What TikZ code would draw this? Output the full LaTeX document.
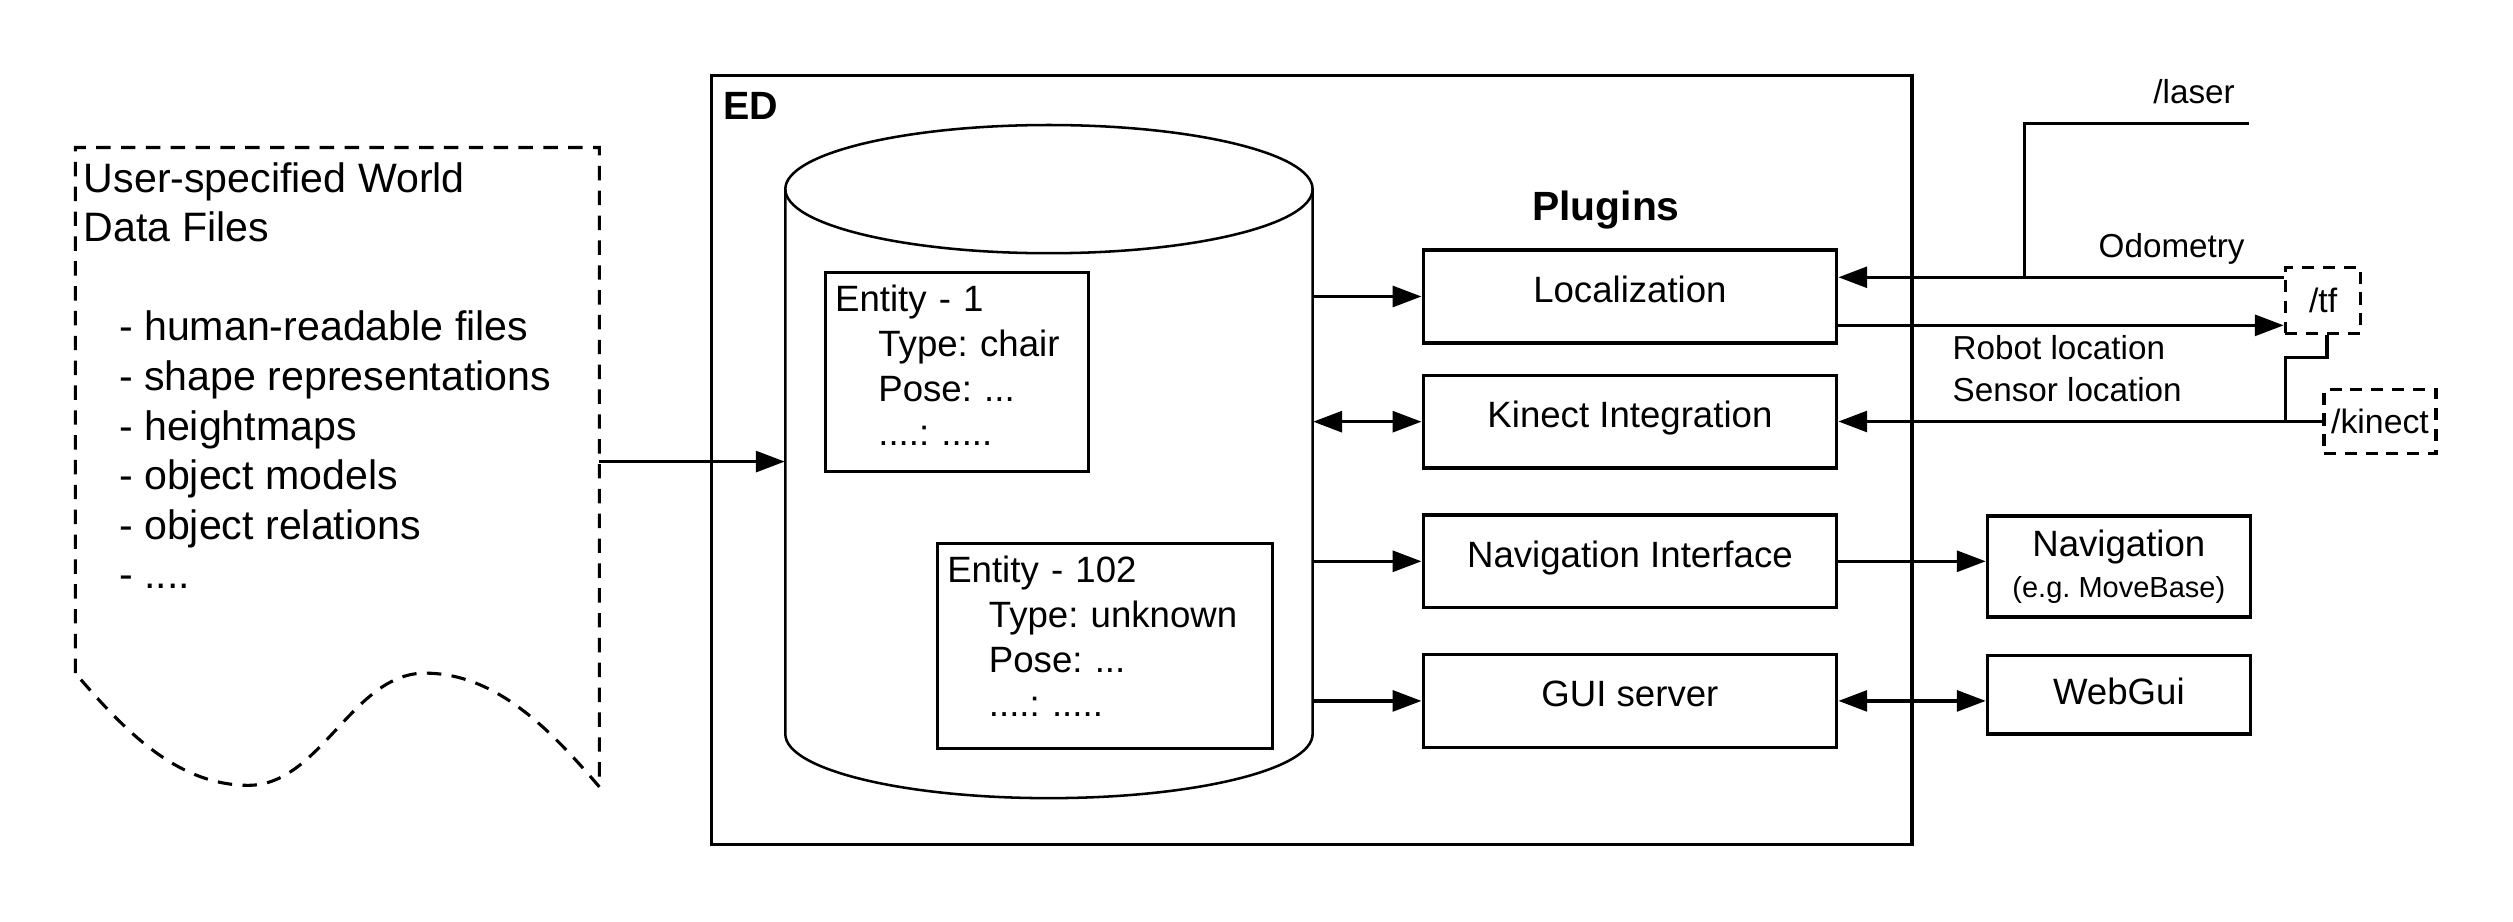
\documentclass[tikz,border=0pt]{standalone}
\usepackage{fontspec}
\setmainfont{Liberation Sans}
\usetikzlibrary{arrows.meta,positioning}
\frenchspacing

\tikzset{
  plugin/.style={draw, line width=1.2pt, minimum width=51.6mm, minimum height=11.6mm,
    text height=3.3mm, text depth=1.8mm, font=\fontsize{13}{15.6}\selectfont},
  extbox/.style={draw, line width=1.2pt, minimum width=32.8mm, align=center,
    font=\fontsize{13}{14.7}\selectfont},
  entitybox/.style={draw, line width=1.2pt, align=left, inner sep=1.2mm,
    font=\fontsize{13}{15.9}\selectfont},
  topic/.style={draw, line width=1.2pt, dash pattern=on 1.5mm off 1.1mm,
    font=\fontsize{12}{14}\selectfont, inner sep=0pt},
  lbl/.style={font=\fontsize{11.8}{14.7}\selectfont, inner sep=0pt},
  arr/.style={line width=1.2pt, -{Triangle[length=3.6mm,width=2.6mm]}},
  biarr/.style={line width=1.2pt, {Triangle[length=3.6mm,width=2.6mm]}-{Triangle[length=3.6mm,width=2.6mm]}}
}

\begin{document}
\begin{tikzpicture}[x=0.2mm, y=0.2mm]
  \useasboundingbox (0,0) rectangle (1568,-575);

  % world data files
  \draw[line width=1.1pt, dash pattern=on 1.8mm off 1.3mm]
    (47,-420) -- (47,-92) -- (374,-92) -- (374,-491)
    .. controls (344,-456) and (310,-420) .. (265,-420)
    .. controls (220,-420) and (200,-490) .. (155,-490)
    .. controls (110,-490) and (77,-455) .. (47,-420);
  \node[anchor=north west, align=left, inner sep=0pt,
    font=\fontsize{14.6}{17.6}\selectfont] (files) at (52,-101)
    {User-specified World\\Data Files\\[17.6pt]
     \hspace{4.4mm}- human-readable files\\
     \hspace{4.4mm}- shape representations\\
     \hspace{4.4mm}- heightmaps\\
     \hspace{4.4mm}- object models\\
     \hspace{4.4mm}- object relations\\
     \hspace{4.4mm}- ....};
  \coordinate (filesout) at (374,-288);

  % ED
  \draw[line width=1.2pt] (444,-47) rectangle (1193,-527);
  \node[anchor=west, inner sep=0pt, font=\fontsize{14}{16}\selectfont\bfseries] (ed) at (451,-66) {ED};

  % world model
  \draw[line width=0.9pt] (490,-118) -- (490,-458)
    arc[start angle=180, end angle=360, x radius=164.5, y radius=40] -- (819,-118);
  \draw[line width=0.9pt] (654.5,-118) ellipse [x radius=164.5, y radius=40];
  \node[minimum width=65.8mm, minimum height=84mm, inner sep=0pt] (db) at (654.5,-288) {};

  \node[entitybox, anchor=north west, text width=30.4mm, minimum height=24.8mm] (ent1) at (514,-169)
    {Entity - 1\\\hspace{5.4mm}Type: chair\\\hspace{5.4mm}Pose: ...\\\hspace{5.4mm}....: .....\rule[-1.6mm]{0pt}{0pt}};
  \node[entitybox, anchor=north west, text width=39.4mm, minimum height=25.6mm] (ent102) at (584,-338)
    {Entity - 102\\\hspace{5.2mm}Type: unknown\\\hspace{5.2mm}Pose: ...\\\hspace{5.2mm}....: .....\rule[-2.4mm]{0pt}{0pt}};

  % plugins
  \node[font=\fontsize{14.5}{16}\selectfont\bfseries] (plugins) at (1002,-131) {Plugins};
  \node[plugin] (loc) at (1017,-185) {Localization};
  \node[plugin, below=3.6mm of loc] (kinect) {Kinect Integration};
  \node[plugin, below=5.4mm of kinect] (navif) {Navigation Interface};
  \node[plugin, below=5.4mm of navif] (gui) {GUI server};

  \node[extbox, anchor=north west, minimum height=12.6mm] (nav) at (1239,-321)
    {Navigation\\{\fontsize{10.3}{12}\selectfont (e.g. MoveBase)}};
  \node[extbox, anchor=north west, minimum height=9.8mm] (webgui) at (1239,-408) {WebGui\rule[-1mm]{0pt}{0pt}};

  % topics
  \node[topic, minimum width=9.4mm, minimum height=8.2mm] (tf) at (1449.5,-187.5) {/tf};
  \node[topic, minimum width=14mm, minimum height=8mm] (kin) at (1485,-263) {/kinect};
  \node[lbl] (laser) at (1369,-57) {/laser};
  \node[lbl] (odolbl) at (1355,-155) {Odometry};
  \node[lbl, anchor=west, align=left] (sensloc) at (1218,-230) {Robot location\\Sensor location};

  \coordinate (laserend) at (1403,-77);
  \coordinate (odo) at (1263,-173);
  \coordinate (rob) at (1300,-203);
  \coordinate (kj) at (1426,-263);

  % connectors
  \draw[arr] (filesout) -- (db.west |- filesout);
  \draw[arr] (db.east |- loc.west) -- (loc.west);
  \draw[biarr] (db.east |- kinect.west) -- (kinect.west);
  \draw[arr] (db.east |- navif.west) -- (navif.west);
  \draw[arr] (db.east |- gui.west) -- (gui.west);
  \draw[arr] (navif.east) -- (nav.west |- navif.east);
  \draw[biarr] (gui.east) -- (webgui.west |- gui.east);

  \draw[line width=1.2pt] (laserend) -| (odo);
  \draw[arr] (tf.west |- odo) -- (loc.east |- odo);
  \draw[arr] (loc.east |- rob) -- (tf.west |- rob);
  \draw[arr] (kin.west) -- (kinect.east |- kin.west);
  \draw[line width=1.2pt] ([xshift=0.5mm]tf.south) -- ++(0,-14) -| (kj);
\end{tikzpicture}
\end{document}
